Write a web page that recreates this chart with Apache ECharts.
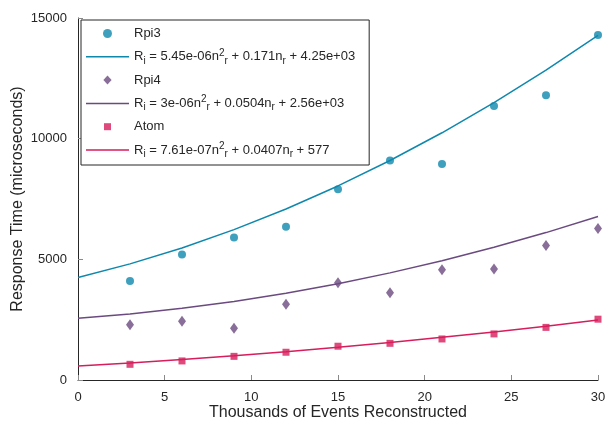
<!DOCTYPE html>
<html><head><meta charset="utf-8">
<script src="https://cdn.jsdelivr.net/npm/echarts@6/dist/echarts.min.js"></script>
<style>html,body{margin:0;padding:0;background:#fff}#c{width:607px;height:425px}</style>
</head><body><div id="c"></div>
<script>
var xThousands = [3, 6, 9, 12, 15, 18, 21, 24, 27, 30];
var fitX = [0, 3, 6, 9, 12, 15, 18, 21, 24, 27, 30];
var rpi3 = [4100, 5200, 5900, 6350, 7900, 9100, 8950, 11350, 11800, 14300];
var rpi4 = [2290, 2430, 2140, 3140, 4030, 3620, 4570, 4600, 5570, 6280];
var atom = [650, 790, 980, 1150, 1400, 1520, 1700, 1910, 2180, 2520];
var rpi3Fit = [4250, 4812, 5472, 6230, 7087, 8041, 9094, 10244, 11493, 12840, 14285];
var rpi4Fit = [2560, 2738, 2970, 3257, 3597, 3991, 4439, 4941, 5498, 6108, 6772];
var atomFit = [577, 706, 848, 1005, 1175, 1359, 1557, 1768, 1992, 2231, 2483];
var legendLabels = {
  'Rpi3': '{m|Rpi3}',
  'Rpi3 fit': '{m|R}{sub|i}{m| = 5.45e-06n}{sup|2}{sub|r}{m| + 0.171n}{sub|r}{m| + 4.25e+03}',
  'Rpi4': '{m|Rpi4}',
  'Rpi4 fit': '{m|R}{sub|i}{m| = 3e-06n}{sup|2}{sub|r}{m| + 0.0504n}{sub|r}{m| + 2.56e+03}',
  'Atom': '{m|Atom}',
  'Atom fit': '{m|R}{sub|i}{m| = 7.61e-07n}{sup|2}{sub|r}{m| + 0.0407n}{sub|r}{m| + 577}'
};
var xLabel = 'Thousands of Events Reconstructed';
var yLabel = 'Response Time (microseconds)';

var C3 = '#0f88ae', C4 = '#6b4a80', CA = '#d71d5c';
function pairs(xs, ys) { return xs.map(function (x, i) { return [x, ys[i]]; }); }
var FONT = 'Liberation Sans, Arial, sans-serif';
var LINE_ICON = 'path://M0,0L100,0L100,3.4L0,3.4Z';
var DIAMOND_ICON = 'path://M4.2,0L8.4,4.6L4.2,9.2L0,4.6Z';
var SQUARE_ICON = 'path://M0,0M1,1L8,1L8,8L1,8ZM9,9';

var chart = echarts.init(document.getElementById('c'), null, {renderer: 'canvas'});
chart.setOption({
  animation: false,
  backgroundColor: '#fff',
  textStyle: {fontFamily: FONT},
  grid: {left: 78, right: 9, top: 18, bottom: 45, containLabel: false, outerBoundsMode: 'none'},
  xAxis: {
    type: 'value', min: 0, max: 30, interval: 5,
    name: xLabel, nameLocation: 'middle', nameGap: 25, nameMoveOverlap: false,
    nameTextStyle: {fontSize: 16, color: '#262626', fontFamily: FONT},
    axisLine: {show: true, lineStyle: {color: '#262626', width: 1}},
    axisTick: {show: true, inside: true, length: 5, lineStyle: {color: '#8a8a8a'}},
    axisLabel: {fontSize: 13, color: '#262626', margin: 11, fontFamily: FONT},
    splitLine: {show: false}
  },
  yAxis: {
    type: 'value', min: 0, max: 15000, interval: 5000,
    name: yLabel, nameLocation: 'middle', nameGap: 52, nameRotate: 90, nameMoveOverlap: false,
    nameTextStyle: {fontSize: 16, color: '#262626', fontFamily: FONT},
    axisLine: {show: true, lineStyle: {color: '#262626', width: 1}},
    axisTick: {show: true, inside: true, length: 5, lineStyle: {color: '#8a8a8a'}},
    axisLabel: {fontSize: 13, color: '#262626', margin: 11, fontFamily: FONT,
      formatter: function (v) { return String(v); }},
    splitLine: {show: false}
  },
  legend: {
    left: 81, top: 20, orient: 'vertical',
    padding: [7, 14, 6, 5],
    itemGap: 7.8, itemWidth: 43, itemHeight: 9,
    borderColor: '#262626', borderWidth: 1, backgroundColor: '#fff',
    data: [
      {name: 'Rpi3', icon: 'circle'},
      {name: 'Rpi3 fit', icon: LINE_ICON},
      {name: 'Rpi4', icon: DIAMOND_ICON},
      {name: 'Rpi4 fit', icon: LINE_ICON},
      {name: 'Atom', icon: SQUARE_ICON},
      {name: 'Atom fit', icon: LINE_ICON}
    ],
    formatter: function (n) { return legendLabels[n]; },
    textStyle: {
      fontFamily: FONT, color: '#262626',
      rich: {
        m: {fontSize: 13, lineHeight: 18, fontFamily: FONT, color: '#262626', verticalAlign: 'middle'},
        sup: {fontSize: 10, lineHeight: 10, fontFamily: FONT, color: '#262626', verticalAlign: 'top'},
        sub: {fontSize: 10, lineHeight: 10, fontFamily: FONT, color: '#262626', verticalAlign: 'bottom'}
      }
    }
  },
  series: [
    {name: 'Rpi3', type: 'scatter', data: pairs(xThousands, rpi3), symbol: 'circle', symbolSize: 8, itemStyle: {color: C3}},
    {name: 'Rpi3 fit', type: 'line', data: pairs(fitX, rpi3Fit), symbol: 'none', lineStyle: {color: C3, width: 1.5}, itemStyle: {color: C3}},
    {name: 'Rpi4', type: 'scatter', data: pairs(xThousands, rpi4), symbol: 'diamond', symbolSize: [8, 11], itemStyle: {color: C4}},
    {name: 'Rpi4 fit', type: 'line', data: pairs(fitX, rpi4Fit), symbol: 'none', lineStyle: {color: C4, width: 1.5}, itemStyle: {color: C4}},
    {name: 'Atom', type: 'scatter', data: pairs(xThousands, atom), symbol: 'rect', symbolSize: 7, itemStyle: {color: CA}},
    {name: 'Atom fit', type: 'line', data: pairs(fitX, atomFit), symbol: 'none', lineStyle: {color: CA, width: 1.5}, itemStyle: {color: CA}}
  ]
});
</script></body></html>
